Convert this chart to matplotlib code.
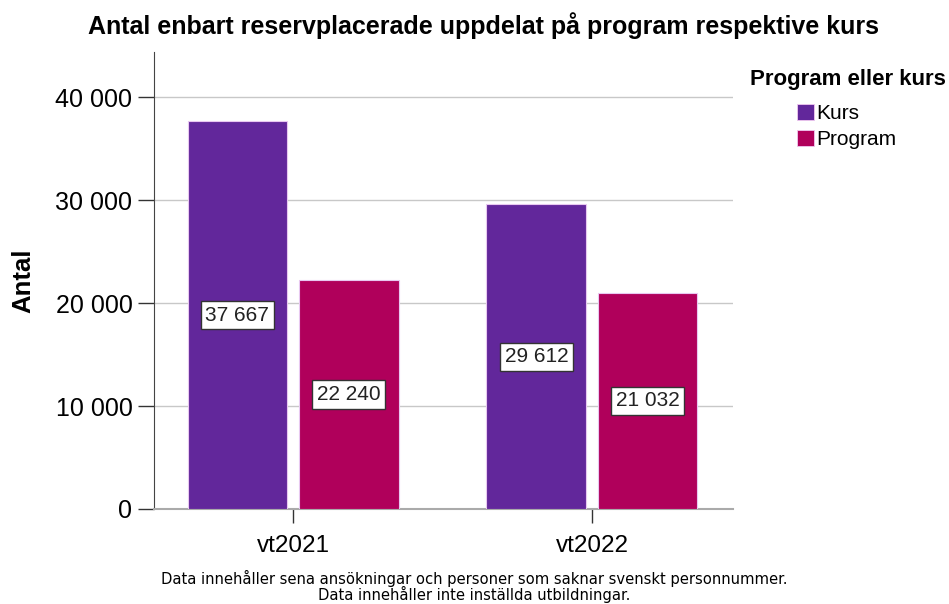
import matplotlib
matplotlib.use("Agg")
import matplotlib.pyplot as plt
import numpy as np
from matplotlib.patches import Patch

# values
terms = ["vt2021", "vt2022"]
kurs = [37667, 29612]
program = [22240, 21032]
series_names = ["Kurs", "Program"]
yticks = [0, 10000, 20000, 30000, 40000]

KURS_COLOR = "#62279b"
PROG_COLOR = "#b0005b"

plt.rcParams["font.family"] = ["Liberation Sans", "DejaVu Sans"]


def fmt(v):
    return f"{v:,}".replace(",", " ")


fig = plt.figure(figsize=(9.49, 6.04), dpi=100)
ax = fig.add_axes([0.1623, 0.1573, 0.6101, 0.7566])

x = np.arange(len(terms))
w = 0.334
off = 0.186
for vals, color, sign in ((kurs, KURS_COLOR, -1), (program, PROG_COLOR, 1)):
    bars = ax.bar(x + sign * off, vals, width=w, color=color,
                  edgecolor="#e8c8f0", linewidth=0.8, zorder=3)
    for b, v in zip(bars, vals):
        ax.text(b.get_x() + b.get_width() / 2, v / 2, fmt(v), ha="center", va="center",
                fontsize=15, color="#222222", zorder=4,
                bbox=dict(boxstyle="square,pad=0.22", fc="white", ec="#333333", lw=1))

ax.set_xlim(-0.465, 1.472)
ax.set_ylim(0, 44400)
ax.set_yticks(yticks)
ax.set_yticklabels([fmt(v) for v in yticks], fontsize=18)
ax.set_xticks(x)
ax.set_xticklabels(terms, fontsize=17.5)
ax.tick_params(axis="y", length=11.5, width=1, color="#333333", pad=4)
ax.tick_params(axis="x", length=10, width=1, color="#333333", pad=9)
ax.grid(axis="y", color="#c8c8c8", linewidth=1, zorder=0)
ax.set_axisbelow(True)
for s in ("top", "right"):
    ax.spines[s].set_visible(False)
ax.spines["left"].set_color("#444444")
ax.spines["bottom"].set_color("#aaaaaa")
ax.spines["bottom"].set_linewidth(1.5)
ax.set_ylabel("Antal", fontsize=18.5, fontweight="bold")
ax.yaxis.set_label_coords(-0.205, 0.5)

fig.text(0.51, 0.958, "Antal enbart reservplacerade uppdelat på program respektive kurs",
         ha="center", va="center", fontsize=18, fontweight="bold")

# legend title drawn separately so it can sit left of the entries
fig.text(750 / 949, 1 - 80 / 604, "Program eller kurs", ha="left", va="center",
         fontsize=16, fontweight="bold")
handles = [Patch(facecolor=KURS_COLOR, edgecolor="#f0c8f0", lw=0.6),
           Patch(facecolor=PROG_COLOR, edgecolor="#f0c8f0", lw=0.6)]
fig.legend(handles, series_names, loc="upper left",
           bbox_to_anchor=(797 / 949, 1 - 104 / 604), frameon=False, fontsize=15,
           borderpad=0, borderaxespad=0, handlelength=0.82, handleheight=0.82,
           handletextpad=0.12, labelspacing=0.32)

fig.text(0.5, 0.029, "Data innehåller sena ansökningar och personer som saknar svenskt personnummer.\n"
         "Data innehåller inte inställda utbildningar.",
         ha="center", va="center", fontsize=11.8, linespacing=0.88,
         family="DejaVu Sans", fontstretch="condensed")

fig.savefig("out.png", dpi=100)
